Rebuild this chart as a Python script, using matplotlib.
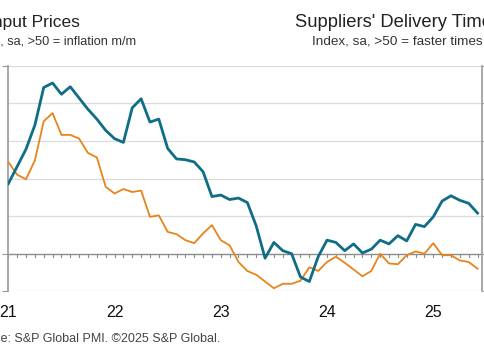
import matplotlib.pyplot as plt
import numpy as np

plt.rcParams['font.family'] = ['Liberation Sans', 'DejaVu Sans']

# monthly, Jan 2021 - Jun 2025
input_prices = [59.3, 61.6, 63.9, 67.1, 72.1, 72.7, 71.2, 72.2, 70.7, 69.2, 67.9, 66.4,
                65.3, 64.8, 69.4, 70.6, 67.5, 67.9, 64.0, 62.6, 62.5, 62.2, 60.9, 57.6,
                57.8, 57.2, 57.4, 56.8, 53.7, 49.4, 51.5, 50.4, 50.0, 46.9, 46.3, 49.6,
                51.8, 51.5, 50.4, 51.3, 50.1, 50.6, 51.8, 51.3, 52.4, 51.7, 53.9, 53.6,
                54.9, 57.0, 57.7, 57.1, 56.7, 55.4]
delivery_times = [62.2, 60.5, 59.9, 62.4, 67.6, 68.7, 65.8, 65.8, 65.3, 63.4, 62.8, 58.9,
                  58.0, 58.6, 58.2, 58.4, 54.9, 55.1, 52.9, 52.6, 51.8, 51.4, 52.7, 53.8,
                  51.8, 51.1, 48.9, 47.7, 47.2, 46.3, 45.4, 46.0, 46.0, 46.4, 48.2, 47.7,
                  48.9, 49.6, 48.8, 47.9, 47.0, 47.7, 50.0, 48.7, 48.6, 49.8, 50.3, 50.0,
                  51.4, 49.8, 49.8, 49.1, 48.9, 48.0]
year_labels = ['21', '22', '23', '24', '25']

months = np.arange(len(input_prices))

fig = plt.figure(figsize=(4.85, 3.6), dpi=100)
ax = fig.add_axes([8.3/485, 1-291.3/360, (481.7-8.3)/485, (291.3-65.7)/360])
ax2 = ax.twinx()

ax.set_xlim(0, 53.47)
ax.set_ylim(45, 75)
ax2.set_ylim(45, 75)

for y in np.arange(45, 80, 5):
    if y != 50:
        ax.axhline(y, color='#dcdcdc', lw=0.9, zorder=0)
ax.axhline(50, color='#8c8c8c', lw=1.0, zorder=1)

ax.plot(months, delivery_times, color='#e8841a', lw=1.3, zorder=3)
ax.plot(months, input_prices, color='#0f6e85', lw=2.0, zorder=4)

# month ticks hanging off the 50 line
for m in months:
    ax.plot([m, m], [50, 49.6], color='#8c8c8c', lw=0.8, zorder=1, clip_on=False)

for s in ['top', 'bottom']:
    ax.spines[s].set_visible(False)
    ax2.spines[s].set_visible(False)
ax.spines['right'].set_visible(False)
ax2.spines['left'].set_visible(False)
ax.spines['left'].set_color('#999999')
ax2.spines['right'].set_color('#999999')
ax.spines['left'].set_linewidth(1.2)
ax2.spines['right'].set_linewidth(1.2)

ax.set_yticks([45, 50, 75])
ax.tick_params(axis='y', length=4, color='#999999', labelleft=False)
ax2.set_yticks(np.arange(45, 80, 5))
ax2.tick_params(axis='y', length=3, color='#999999', labelright=False)

ax.set_xticks(np.arange(0, 60, 12))
ax.set_xticklabels(year_labels, fontsize=11.5, color='#111111')
ax.tick_params(axis='x', length=0, pad=10)

fig.text(80/485, 1-27/360, 'Input Prices', ha='right', va='baseline', fontsize=12.5, color='#222222')
fig.text(136/485, 1-44/360, 'Index, sa, >50 = inflation m/m', ha='right', va='baseline',
         fontsize=9.2, color='#333333')
fig.text(295/485, 1-27/360, "Suppliers' Delivery Times", ha='left', va='baseline', fontsize=13.2,
         color='#222222')
fig.text(483/485, 1-44/360, 'Index, sa, >50 = faster times', ha='right', va='baseline',
         fontsize=9.7, color='#333333')
fig.text(220/485, 1-342/360, 'Source: S&P Global PMI. \u00a92025 S&P Global.', ha='right',
         va='baseline', fontsize=9.0, color='#444444')

plt.savefig('out.png', dpi=100)
